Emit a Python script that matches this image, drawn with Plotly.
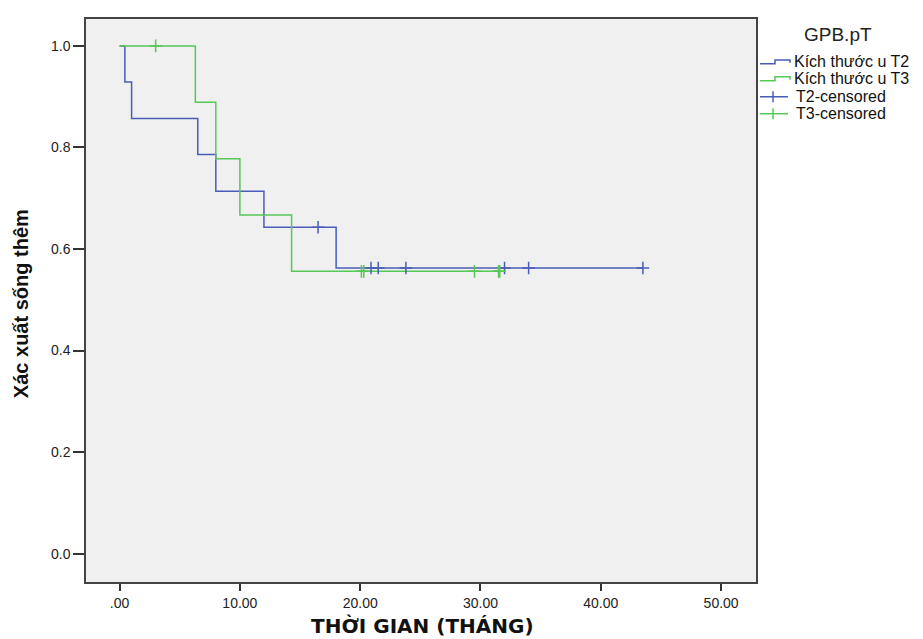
import plotly.graph_objects as go

# Kaplan-Meier step data
t2_times = [0.0, 0.44, 1.0, 6.5, 8.0, 12.0, 18.0, 43.5]
t2_surv = [1.0, 0.929, 0.857, 0.786, 0.714, 0.643, 0.5625, 0.5625]
t3_times = [0.0, 6.3, 8.0, 10.0, 14.3, 31.6]
t3_surv = [1.0, 0.889, 0.778, 0.667, 0.556, 0.556]

t2_cens_times = [16.5, 20.9, 21.5, 23.8, 32.0, 34.0, 43.5]
t2_cens_surv = [0.643, 0.5625, 0.5625, 0.5625, 0.5625, 0.5625, 0.5625]
t3_cens_times = [3.0, 20.1, 20.3, 29.5, 31.5, 31.6]
t3_cens_surv = [1.0, 0.556, 0.556, 0.556, 0.556, 0.556]

x_tickvals = [0, 10, 20, 30, 40, 50]
x_ticktext = [".00", "10.00", "20.00", "30.00", "40.00", "50.00"]
y_tickvals = [0.0, 0.2, 0.4, 0.6, 0.8, 1.0]
y_ticktext = ["0.0", "0.2", "0.4", "0.6", "0.8", "1.0"]

legend_title = "GPB.pT"
names = ["Kích thước u T2", "Kích thước u T3", "T2-censored", "T3-censored"]
blue = "#4a5cb8"
green = "#55c855"
colors = [blue, green, blue, green]

fig = go.Figure()
fig.add_trace(go.Scatter(x=t2_times, y=t2_surv, mode="lines", line_shape="hv",
                         line=dict(color=blue, width=1.5), name=names[0]))
fig.add_trace(go.Scatter(x=t3_times, y=t3_surv, mode="lines", line_shape="hv",
                         line=dict(color=green, width=1.5), name=names[1]))
fig.add_trace(go.Scatter(x=t2_cens_times, y=t2_cens_surv, mode="markers",
                         marker=dict(symbol="cross-thin-open", size=9, color=blue,
                                     line=dict(color=blue, width=1.5)),
                         name=names[2]))
fig.add_trace(go.Scatter(x=t3_cens_times, y=t3_cens_surv, mode="markers",
                         marker=dict(symbol="cross-thin-open", size=9, color=green,
                                     line=dict(color=green, width=1.5)),
                         name=names[3]))

font_main = "Liberation Sans, Arial, sans-serif"

# The page body has an 8px default margin; compensate in layout.
OFF = 8
W, H = 923 - OFF, 639 - OFF
PL, PR, PT, PB = 86.0, 756.0, 17.0, 581.7  # plot area in window pixels


def px_x(px):
    return (px - PL) / (PR - PL)


def px_y(py):
    return (PB - py) / (PB - PT)


# Manual legend (step glyphs like the reference)
shapes = []
annotations = []
row_y = [60, 77, 95, 112]
for i, (nm, col) in enumerate(zip(names, colors)):
    yc = row_y[i]
    if i < 2:
        path = (f"M {px_x(760)},{px_y(yc + 2)} L {px_x(775)},{px_y(yc + 2)} "
                f"L {px_x(775)},{px_y(yc - 2)} L {px_x(790)},{px_y(yc - 2)} "
                f"L {px_x(790)},{px_y(yc + 1)}")
        shapes.append(dict(type="path", path=path, xref="paper", yref="paper",
                           line=dict(color=col, width=1.5)))
        tx = 792
    else:
        shapes.append(dict(type="line", xref="paper", yref="paper",
                           x0=px_x(760), x1=px_x(788), y0=px_y(yc), y1=px_y(yc),
                           line=dict(color=col, width=1.5)))
        shapes.append(dict(type="line", xref="paper", yref="paper",
                           x0=px_x(773), x1=px_x(773), y0=px_y(yc - 5.5), y1=px_y(yc + 5.5),
                           line=dict(color=col, width=1.5)))
        tx = 794
    annotations.append(dict(text=nm, x=px_x(tx), y=px_y(yc), xref="paper", yref="paper",
                            xanchor="left", yanchor="middle", showarrow=False,
                            font=dict(size=16, family=font_main, color="#111111")))

annotations += [
    dict(text=legend_title, x=px_x(838), y=px_y(33), xref="paper", yref="paper",
         xanchor="center", yanchor="middle", showarrow=False,
         font=dict(size=19, family=font_main, color="#222222")),
    dict(text="<b>THỜI GIAN (THÁNG)</b>", x=px_x(422), y=px_y(626), xref="paper", yref="paper",
         xanchor="center", yanchor="middle", showarrow=False,
         font=dict(size=20, family="DejaVu Sans, Liberation Sans, sans-serif", color="#111111")),
    dict(text="<b>Xác xuất sống thêm</b>", x=px_x(21), y=px_y(303), xref="paper", yref="paper",
         xanchor="center", yanchor="middle", showarrow=False, textangle=-90,
         font=dict(size=20, family=font_main, color="#111111")),
]

fig.update_layout(
    width=W, height=H,
    margin=dict(l=PL - OFF, r=OFF + W - PR, t=PT - OFF, b=OFF + H - PB),
    paper_bgcolor="white",
    plot_bgcolor="#f0f0f0",
    font=dict(family=font_main, size=14, color="#222222"),
    showlegend=False,
    xaxis=dict(range=[-2.79, 52.9], tickvals=x_tickvals, ticktext=x_ticktext,
               showgrid=False, zeroline=False, ticks="outside", ticklen=7,
               tickcolor="#333333", tickwidth=1.5,
               showline=True, linecolor="#444444", linewidth=1.5, mirror=True,
               tickfont=dict(size=14, color="#222222")),
    yaxis=dict(range=[-0.0558, 1.053], tickvals=y_tickvals, ticktext=y_ticktext,
               showgrid=False, zeroline=False, ticks="outside", ticklen=11,
               tickcolor="#333333", tickwidth=1.5,
               showline=True, linecolor="#444444", linewidth=1.5, mirror=True,
               tickfont=dict(size=14, color="#222222")),
    shapes=shapes,
    annotations=annotations,
)

fig.write_html("out.html")
